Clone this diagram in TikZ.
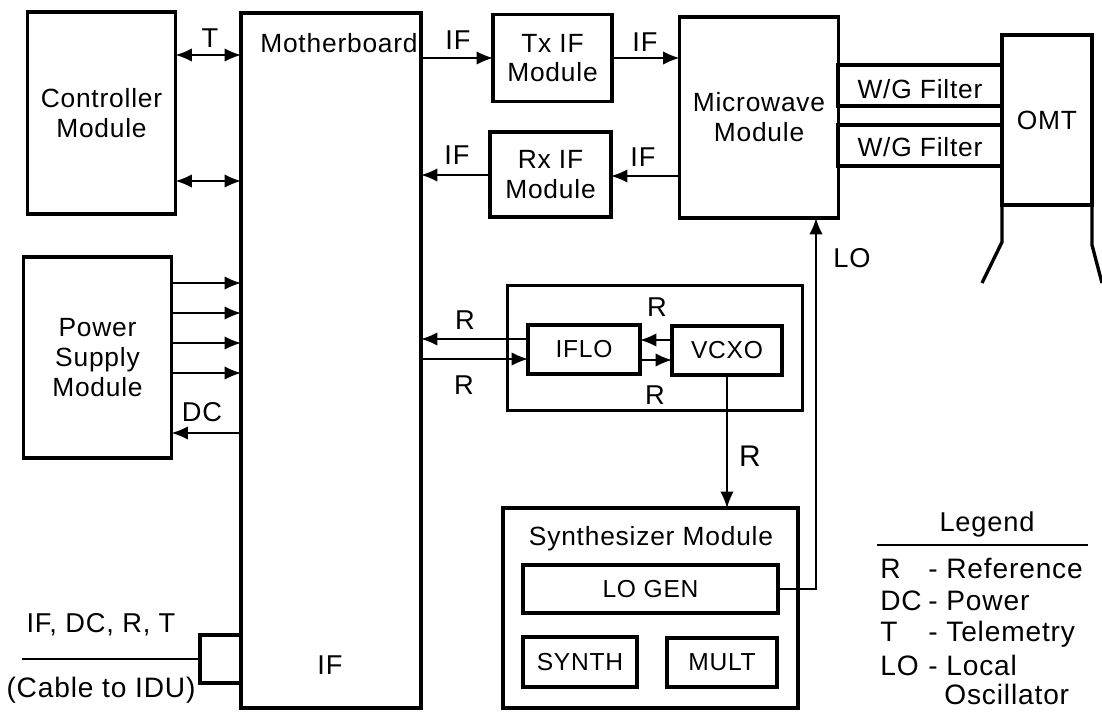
\documentclass[tikz,border=0pt]{standalone}
\usepackage{fontspec}
\setmainfont[LetterSpace=3]{Liberation Sans}
\usetikzlibrary{arrows.meta,calc}
\tikzset{
  modbox/.style={draw,line width=1.9pt,outer sep=0pt,inner sep=0pt,align=center,font=\fontsize{15}{17}\selectfont},
  subbox/.style={modbox,font=\fontsize{14}{17}\selectfont},
  boxtext/.style={inner sep=0pt,font=\fontsize{15}{17}\selectfont},
  lbl/.style={inner sep=0pt,font=\fontsize{15.5}{18}\selectfont},
  legtext/.style={lbl,anchor=base west,font=\fontsize{16}{18}\selectfont},
  sig/.style={line width=1pt,-{Latex[length=0.33cm,width=0.27cm]}},
  sigboth/.style={line width=1pt,{Latex[length=0.33cm,width=0.27cm]}-{Latex[length=0.33cm,width=0.27cm]}},
  wall/.style={line width=1.9pt}
}
\begin{document}
\begin{tikzpicture}[x=0.02cm,y=-0.02cm]
\useasboundingbox (0,0) rectangle (1102,711);
% left column
\node[modbox,minimum width=2.96cm,minimum height=4.04cm] (ctrl) at (101.5,113) {Controller\\Module};
\node[modbox,minimum width=2.96cm,minimum height=4.02cm] (power) at (97.5,357.5) {Power\\Supply\\Module};
\node[modbox,minimum width=3.6cm,minimum height=13.9cm] (mb) at (331,360.5) {};
\node[boxtext] (mbtext) at (339,43) {Motherboard};
\node[lbl] (mbif) at (330,665) {IF};
% IF modules
\node[modbox,minimum width=2.38cm,minimum height=1.74cm] (tx) at (552.5,58) {Tx IF\\Module};
\node[modbox,minimum width=2.42cm,minimum height=1.7cm] (rx) at (550.5,174.5) {Rx IF\\Module};
\node[modbox,minimum width=3.18cm,minimum height=4.02cm] (mw) at (759,117.5) {Microwave\\Module};
% waveguide and OMT
\node[modbox,minimum height=0.82cm,minimum width=3.28cm] (wg1) at (920,85.5) {};
\node[modbox,minimum height=0.82cm,minimum width=3.28cm] (wg2) at (920,145.5) {};
\node[boxtext] (wg1text) at (920,89) {W/G Filter};
\node[boxtext] (wg2text) at (920,147) {W/G Filter};
\node[modbox,minimum width=1.8cm,minimum height=3.4cm] (omt) at (1047,120) {OMT};
\draw[wall] (omt.south west) -- ++(0,37) -- (982,283);
\draw[wall] (omt.south east) -- ++(0,40) -- (1102,283);
% reference group
\node[modbox,minimum width=5.9cm,minimum height=2.5cm] (refgrp) at (655,348) {};
\node[subbox,minimum width=2.24cm,minimum height=0.98cm] (iflo) at (584,349.5) {IFLO};
\node[subbox,minimum width=2.2cm,minimum height=0.98cm] (vcxo) at (727,350.5) {VCXO};
% synthesizer
\node[modbox,minimum width=5.9cm,minimum height=4cm] (syn) at (650.5,608) {};
\node[boxtext] (syntext) at (651,539) {Synthesizer Module};
\node[subbox,minimum width=5.1cm,minimum height=0.96cm] (logen) at (650.5,589) {LO GEN};
\node[subbox,minimum width=2.28cm,minimum height=1cm] (synth) at (580,662) {SYNTH};
\node[subbox,minimum width=2.2cm,minimum height=0.98cm] (mult) at (722,662.5) {MULT};
% cable
\node[modbox,minimum width=0.82cm,minimum height=0.96cm] (conn) at (220.5,659) {};
\coordinate (cableend) at (22,659);
\draw[line width=1pt] (cableend) -- (conn.west);
\node[lbl] (cabletop) at (101,625) {IF, DC, R, T};
\node[lbl,font=\fontsize{16}{18}\selectfont] (cablebot) at (101,690) {(Cable to IDU)};
% connectors
\draw[sigboth] (ctrl.east |- 0,55) -- (mb.west |- 0,55);
\draw[sigboth] (ctrl.east |- 0,181) -- (mb.west |- 0,181);
\foreach \y in {283,313,343,373} \draw[sig] (power.east |- 0,\y) -- (mb.west |- 0,\y);
\draw[sig] (mb.west |- 0,433) -- (power.east |- 0,433);
\draw[sig] (mb.east |- 0,58) -- (tx.west |- 0,58);
\draw[sig] (tx.east |- 0,58) -- (mw.west |- 0,58);
\draw[sig] (mw.west |- 0,176) -- (rx.east |- 0,176);
\draw[sig] (rx.west |- 0,175) -- (mb.east |- 0,175);
\draw[sig] (iflo.west |- 0,339) -- (mb.east |- 0,339);
\draw[sig] (mb.east |- 0,359) -- (iflo.west |- 0,359);
\draw[sig] (vcxo.west |- 0,340) -- (iflo.east |- 0,340);
\draw[sig] (iflo.east |- 0,360) -- (vcxo.west |- 0,360);
\draw[sig] (vcxo.south) -- (syn.north -| vcxo.south);
\coordinate (lobend) at (816,589);
\draw[sig] (logen.east) -- (lobend) -- (lobend |- mw.south);
% labels
\node[lbl] (lblt) at (210,38) {T};
\node[lbl] (lbldc) at (202,412) {DC};
\node[lbl] (lblif1) at (458,40) {IF};
\node[lbl] (lblif2) at (645,42) {IF};
\node[lbl] (lblif3) at (457,155) {IF};
\node[lbl] (lblif4) at (643,157) {IF};
\node[lbl] (lbllo) at (852,258) {LO};
\node[lbl] (lblr1) at (465,320) {R};
\node[lbl] (lblr2) at (464,385) {R};
\node[lbl] (lblr3) at (657,307) {R};
\node[lbl] (lblr4) at (655,395) {R};
\node[lbl,font=\fontsize{17}{20}\selectfont] (lblr5) at (750,456) {R};
% legend
\node[lbl] (leghead) at (987,524) {Legend};
\coordinate (legl) at (877,545);
\coordinate (legr) at (1088,545);
\draw[line width=1pt] (legl) -- (legr);
\node[legtext] (legr1) at (880,578) {R};
\node[legtext] (legr2) at (880,610) {DC};
\node[legtext] (legr3) at (880,641) {T};
\node[legtext] (legr4) at (880,675) {LO};
\node[legtext] (legd1) at (928,578) {- Reference};
\node[legtext] (legd2) at (928,610) {- Power};
\node[legtext] (legd3) at (928,641) {- Telemetry};
\node[legtext] (legd4) at (928,675) {- Local};
\node[legtext] (legd5) at (944,704) {Oscillator};
\end{tikzpicture}
\end{document}
